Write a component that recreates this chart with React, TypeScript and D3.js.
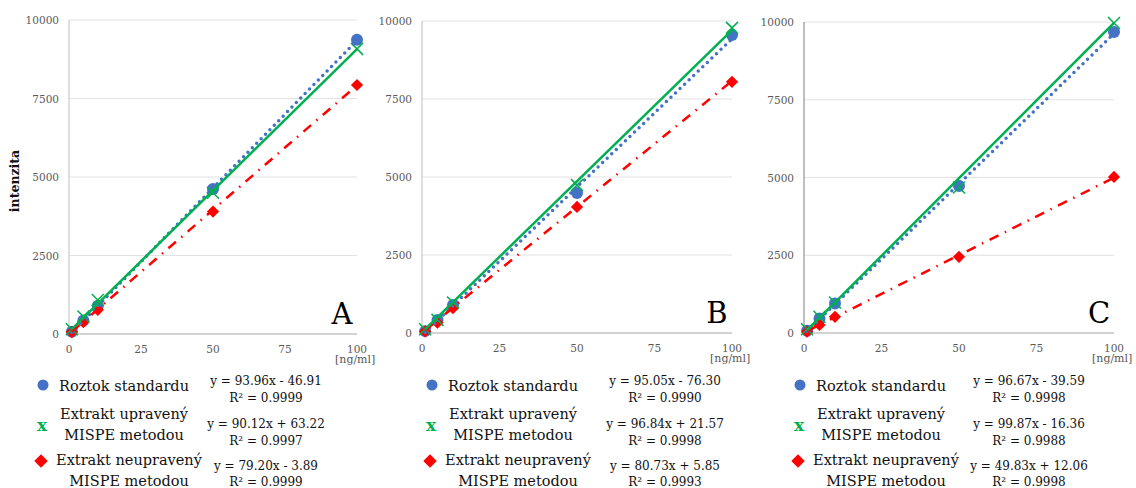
import React from 'react';
import * as d3 from 'd3';

// concentrations [ng/ml]
const concentrations = [1, 5, 10, 50, 100];
const xTicks = [0, 25, 50, 75, 100];
const yTicks = [0, 2500, 5000, 7500, 10000];
const panelLetters = ['A', 'B', 'C'];

// Roztok standardu (blue), Extrakt upravený (green), Extrakt neupravený (red)
const standardA = [70, 430, 900, 4620, 9370];
const upravenyA = [150, 560, 1080, 4500, 9080];
const neupravenyA = [60, 380, 770, 3900, 7930];

const standardB = [60, 420, 900, 4490, 9550];
const upravenyB = [120, 420, 980, 4740, 9780];
const neupravenyB = [50, 330, 800, 4040, 8050];

const standardC = [70, 470, 950, 4730, 9680];
const upravenyC = [120, 520, 980, 4680, 9970];
const neupravenyC = [40, 260, 520, 2450, 5020];

// trendline fits: [slope, intercept] per series
const fitsA = [[93.96, -46.91], [90.12, 63.22], [79.2, -3.89]];
const fitsB = [[95.05, -76.3], [96.84, 21.57], [80.73, 5.85]];
const fitsC = [[96.67, -39.59], [99.87, -16.36], [49.83, 12.06]];

const equationsA = ['y = 93.96x - 46.91', 'y = 90.12x + 63.22', 'y = 79.20x - 3.89'];
const equationsB = ['y = 95.05x - 76.30', 'y = 96.84x + 21.57', 'y = 80.73x + 5.85'];
const equationsC = ['y = 96.67x - 39.59', 'y = 99.87x - 16.36', 'y = 49.83x + 12.06'];

const r2A = ['0.9999', '0.9997', '0.9999'];
const r2B = ['0.9990', '0.9998', '0.9993'];
const r2C = ['0.9998', '0.9988', '0.9998'];

const legendLines = [['Roztok standardu'], ['Extrakt upravený', 'MISPE metodou'], ['Extrakt neupravený', 'MISPE metodou']];

const BLUE = '#4472C4';
const GREEN = '#00B050';
const RED = '#FF0000';
const SERIF = '"DejaVu Serif", serif';

const panels = [
  { left: 69, right: 357, top: 20, bottom: 334, axisColor: '#bfbfbf', legendX: 124, eqX: 266,
    series: [standardA, upravenyA, neupravenyA], fits: fitsA, eqs: equationsA, r2: r2A, yLabel: true },
  { left: 422, right: 732, top: 21, bottom: 333, axisColor: '#bfbfbf', legendX: 513, eqX: 665,
    series: [standardB, upravenyB, neupravenyB], fits: fitsB, eqs: equationsB, r2: r2B, yLabel: false },
  { left: 804, right: 1114, top: 22, bottom: 333, axisColor: '#7f7f7f', legendX: 881, eqX: 1029,
    series: [standardC, upravenyC, neupravenyC], fits: fitsC, eqs: equationsC, r2: r2C, yLabel: false },
];

const Panel = ({ p, letter }: { p: any; letter: string }) => {
  const x = d3.scaleLinear().domain([0, 100]).range([p.left, p.right]);
  const y = d3.scaleLinear().domain([0, 10000]).range([p.bottom, p.top]);
  const fitLine = d3.line<number>().x(d => x(d));
  const lineFor = (f: number[]) =>
    fitLine.y(d => y(f[0] * d + f[1]))([concentrations[0], 100]) || '';
  const [blue, green, red] = p.series;
  const diamond = d3.symbol().type(d3.symbolDiamond2).size(95)() || '';
  const legendDiamond = d3.symbol().type(d3.symbolDiamond2).size(115)() || '';

  return (
    <g>
      {yTicks.slice(1).map(t => (
        <line key={t} x1={p.left} x2={p.right} y1={y(t)} y2={y(t)} stroke="#e2e2e2" strokeWidth={1} />
      ))}
      <line x1={p.left} x2={p.left} y1={p.top} y2={p.bottom} stroke={p.axisColor} strokeWidth={1} />
      <line x1={p.left} x2={p.right} y1={p.bottom} y2={p.bottom} stroke="#a6a6a6" strokeWidth={1} />
      {yTicks.map(t => (
        <text key={t} x={p.left - 10} y={y(t) + 4} textAnchor="end" fontSize={10.5} fill="#595959" fontFamily={SERIF}>{t}</text>
      ))}
      {xTicks.map(t => (
        <text key={t} x={x(t)} y={p.bottom + 19} textAnchor="middle" fontSize={10.5} fill="#595959" fontFamily={SERIF}>{t}</text>
      ))}
      <text x={p.right - 22} y={p.bottom + 29} fontSize={11} fill="#595959" fontFamily={SERIF}>[ng/ml]</text>
      {p.yLabel && (
        <text transform={`translate(19,${(p.top + p.bottom) / 2 + 4}) rotate(-90)`} textAnchor="middle"
          fontSize={12.5} fontWeight="bold" fontFamily={SERIF} fill="#111">intenzita</text>
      )}

      {/* markers */}
      {blue.map((v: number, i: number) => (
        <circle key={'b' + i} cx={x(concentrations[i])} cy={y(v)} r={6} fill={BLUE} />
      ))}
      {red.map((v: number, i: number) => (
        <path key={'r' + i} d={diamond} transform={`translate(${x(concentrations[i])},${y(v)})`} fill={RED} />
      ))}
      {green.map((v: number, i: number) => {
        const cx = x(concentrations[i]);
        const cy = y(v);
        return (
          <path key={'g' + i} d={`M${cx - 6},${cy - 6}L${cx + 6},${cy + 6}M${cx - 6},${cy + 6}L${cx + 6},${cy - 6}`}
            stroke={GREEN} strokeWidth={1.5} fill="none" />
        );
      })}

      {/* trendlines */}
      <path d={lineFor(p.fits[0])} stroke={BLUE} strokeWidth={3.5} strokeDasharray="0 6.3" strokeLinecap="round" fill="none" />
      <path d={lineFor(p.fits[2])} stroke={RED} strokeWidth={2.5} strokeDasharray="10 7 1.5 7" fill="none" />
      <path d={lineFor(p.fits[1])} stroke={GREEN} strokeWidth={2.5} fill="none" />

      <text x={p.right - 15} y={p.bottom - 10} textAnchor="middle" fontSize={29} fontFamily={SERIF} fill="#000">{letter}</text>

      {/* legend */}
      <circle cx={p.legendX - 81} cy={385} r={5.5} fill={BLUE} />
      <text x={p.legendX - 82} y={431} textAnchor="middle" fontSize={17} fontWeight="bold" fontFamily={SERIF} fill={GREEN}>x</text>
      <path d={legendDiamond} transform={`translate(${p.legendX - 83},${461})`} fill={RED} />
      {legendLines.map((lines, k) =>
        lines.map((s, j) => (
          <text key={k + '-' + j} x={p.legendX + (k === 2 ? 5 : 0)} y={[391, 419, 465][k] + j * 20.5}
            textAnchor="middle" fontSize={14.5} fontFamily={SERIF} fill="#111">{s}</text>
        ))
      )}
      {p.eqs.map((e: string, k: number) => (
        <g key={'e' + k}>
          <text x={p.eqX} y={[385, 428, 470][k]} textAnchor="middle" fontSize={12} fontFamily={SERIF} fill="#111">{e}</text>
          <text x={p.eqX} y={[401.5, 445, 486][k]} textAnchor="middle" fontSize={12} fontFamily={SERIF} fill="#111">R² = {p.r2[k]}</text>
        </g>
      ))}
    </g>
  );
};

export default function App() {
  return (
    <div style={{ position: 'absolute', left: 0, top: 0 }}>
      <svg width={1136} height={488} style={{ display: 'block', background: '#fff' }}>
        {panels.map((p, i) => (
          <Panel key={i} p={p} letter={panelLetters[i]} />
        ))}
      </svg>
    </div>
  );
}
